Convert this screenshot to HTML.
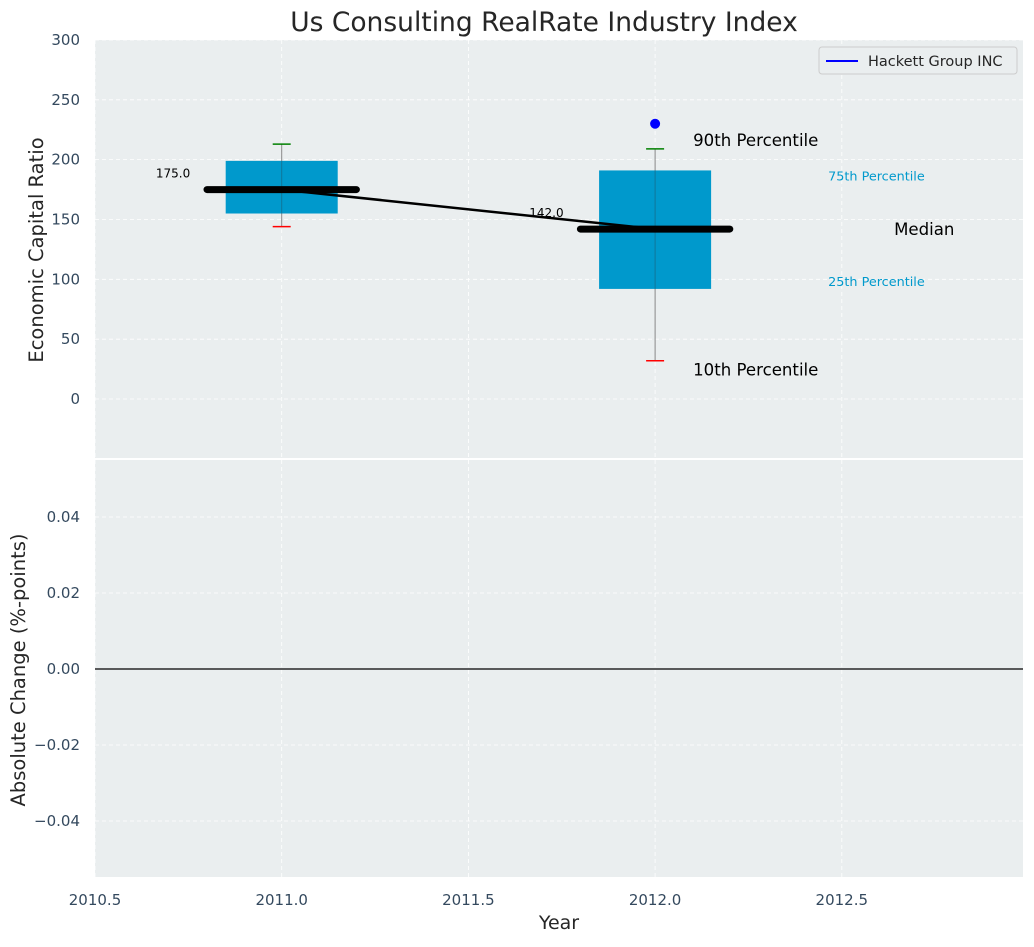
<!DOCTYPE html>
<html><head><meta charset="utf-8"><style>
body{margin:0;background:#fff;}
svg text{font-family:"DejaVu Sans","Liberation Sans",sans-serif;}
</style></head><body>
<svg id="chart" width="1034" height="942" xmlns="http://www.w3.org/2000/svg">
<rect width="1034" height="942" fill="#fff"/>
<text x="544" y="31" font-size="26.5" text-anchor="middle" fill="#262626">Us Consulting RealRate Industry Index</text>
<rect x="95" y="40" width="928" height="418" fill="#eaeeef"/>
<rect x="95" y="460" width="928" height="417" fill="#eaeeef"/>
<g id="grid"></g>
<g id="marks"></g>
<text transform="translate(43,250) rotate(-90)" font-size="19.5" text-anchor="middle" fill="#262626">Economic Capital Ratio</text>
<text transform="translate(25,670) rotate(-90)" font-size="19.5" text-anchor="middle" fill="#262626">Absolute Change (%-points)</text>
<text x="559" y="929" font-size="19" text-anchor="middle" fill="#262626">Year</text>
<g>
<rect x="819" y="47" width="198" height="27" rx="3" fill="#eaeeef" stroke="#ccc"/>
<line x1="826" y1="61" x2="858" y2="61" stroke="#0000ff" stroke-width="2"/>
<text x="868" y="66" font-size="14.5" fill="#262626">Hackett Group INC</text>
</g>
</svg>
<script>
const years=[2011,2012];
const p10=[144,32];
const q1=[155,92];
const medians=[175,142];
const q3=[199,191];
const p90=[213,209];
const outlierYears=[2012];
const outlierVals=[230];
const yTicksTop=[0,50,100,150,200,250,300];
const yTicksBottom=[-0.04,-0.02,0.00,0.02,0.04];
const yTickLabelsBottom=["\u22120.04","\u22120.02","0.00","0.02","0.04"];
const xTicks=[2010.5,2011,2011.5,2012,2012.5];
const xTickLabels=["2010.5","2011.0","2011.5","2012.0","2012.5"];

const NS="http://www.w3.org/2000/svg";
const X=v=>95+(v-2010.5)*373.4;
const Y=v=>399-v*1.1967;
const Y2=v=>669-v*3800;
const grid=document.getElementById('grid'),marks=document.getElementById('marks'),svg=document.getElementById('chart');
function mk(p,tag,a,txt){const e=document.createElementNS(NS,tag);for(const k in a)e.setAttribute(k,a[k]);if(txt!==undefined)e.textContent=txt;p.appendChild(e);return e;}
yTicksTop.forEach(v=>{
 const l=mk(grid,'line',{x1:95,x2:1023,y1:Y(v),y2:Y(v),stroke:'#fff','stroke-dasharray':'4,3','stroke-width':0.8});
 
 
 const t=mk(svg,'text',{x:80,y:Y(v)+5,'font-size':15,'text-anchor':'end',fill:'#34495e'},String(v));
 
 
});
yTicksBottom.forEach((v,i)=>{
 const l=mk(grid,'line',{x1:95,x2:1023,y1:Y2(v),y2:Y2(v),stroke:'#fff','stroke-dasharray':'4,3','stroke-width':0.8});
 
 
 const t=mk(svg,'text',{x:80,y:Y2(v)+5,'font-size':15,'text-anchor':'end',fill:'#34495e'},yTickLabelsBottom[i]);
 
 
});
xTicks.forEach((v,i)=>{
 [[40,458],[460,877]].forEach(r=>{
  const l=mk(grid,'line',{x1:X(v),x2:X(v),y1:r[0],y2:r[1],stroke:'#fff','stroke-dasharray':'4,3','stroke-width':0.8});
  
  
 });
 const t=mk(svg,'text',{x:X(v),y:905,'font-size':15,'text-anchor':'middle',fill:'#34495e'},xTickLabels[i]);
 
 
});
const zl=mk(marks,'line',{x1:95,x2:1023,y1:Y2(0),y2:Y2(0),stroke:'#000','stroke-width':1.2});


years.forEach((yr,i)=>{
 const cx=X(yr);
 const w=mk(marks,'line',{x1:cx,x2:cx,y1:Y(p10[i]),y2:Y(p90[i]),stroke:'#888','stroke-width':1});
 
 
 const b=mk(marks,'rect',{x:X(yr-0.15),y:Y(q3[i]),width:X(yr+0.15)-X(yr-0.15),height:Y(q1[i])-Y(q3[i]),fill:'#0099cc'});
 
 
 const w2=mk(marks,'line',{x1:cx,x2:cx,y1:Y(q3[i]),y2:Y(q1[i]),stroke:'#1a5f7a','stroke-width':1,opacity:0.6});
 
 
 const c1=mk(marks,'line',{x1:cx-9,x2:cx+9,y1:Y(p90[i]),y2:Y(p90[i]),stroke:'green','stroke-width':1.5});
 
 
 const c2=mk(marks,'line',{x1:cx-9,x2:cx+9,y1:Y(p10[i]),y2:Y(p10[i]),stroke:'red','stroke-width':1.5});
 
 
 const m=mk(marks,'line',{x1:X(yr-0.2),x2:X(yr+0.2),y1:Y(medians[i]),y2:Y(medians[i]),stroke:'#000','stroke-width':7,'stroke-linecap':'round'});
 
 
 const t=mk(marks,'text',{x:X(yr-0.245),y:Y(medians[i])-12,'font-size':12,'text-anchor':'end',fill:'#000'},medians[i].toFixed(1));
 
 
});
const pts=years.map((yr,i)=>X(yr)+','+Y(medians[i])).join(' ');
const pl=mk(marks,'polyline',{points:pts,fill:'none',stroke:'#000','stroke-width':2.5});


outlierYears.forEach((yr,i)=>{
 const d=mk(marks,'circle',{cx:X(yr),cy:Y(outlierVals[i]),r:5,fill:'#0000ff'});
 
 
});
const last=years.length-1, lx=X(years[last]);
[["90th Percentile",lx+38,Y(p90[last])-3,16.6,'#000','label-90th'],
 ["10th Percentile",lx+38,Y(p10[last])+15,16.6,'#000','label-10th'],
 ["75th Percentile",lx+173,Y(q3[last])+10,12.8,'#0099cc','label-75th'],
 ["25th Percentile",lx+173,Y(q1[last])-3,12.8,'#0099cc','label-25th'],
 ["Median",lx+239,Y(medians[last])+6,16.6,'#000','label-median']].forEach(a=>{
 const t=mk(marks,'text',{x:a[1],y:a[2],'font-size':a[3],fill:a[4]},a[0]);
 
 
});
</script>
</body></html>
